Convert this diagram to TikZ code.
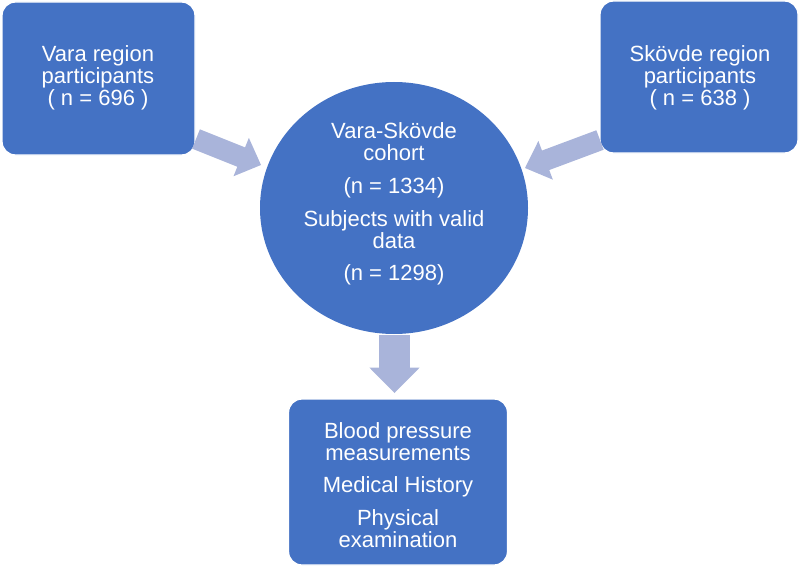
\documentclass[tikz,border=0pt]{standalone}
\usepackage{fontspec}
\setmainfont{Liberation Sans}
\usetikzlibrary{calc,shapes.geometric}
\definecolor{boxblue}{RGB}{68,114,196}
\definecolor{arrowcol}{RGB}{169,180,218}
\newcommand\blockarrow[5]{%
  \fill[arrowcol] ($(#1)!#3!90:(#2)$) -- ($($(#2)!#5!(#1)$)!#3!90:(#2)$)
    -- ($($(#2)!#5!(#1)$)!#4!90:(#2)$) -- (#2)
    -- ($($(#2)!#5!(#1)$)!#4!-90:(#2)$) -- ($($(#2)!#5!(#1)$)!#3!-90:(#2)$)
    -- ($(#1)!#3!-90:(#2)$) -- cycle;}
\begin{document}
\begin{tikzpicture}[x=0.75pt,y=-0.75pt,
  txt/.style={text=white,align=center,font=\fontsize{16.5}{16.5}\selectfont},
  bbox/.style={fill=boxblue,draw=white,line width=1pt,rounded corners=10pt}]
\useasboundingbox (0,0) rectangle (800,567);
% boxes
\node[bbox,minimum width=193*0.75pt,minimum height=153*0.75pt] (vara) at (98.5,78.5) {};
\node[bbox,minimum width=198*0.75pt,minimum height=152*0.75pt] (skov) at (699,77) {};
\node[bbox,minimum width=219*0.75pt,minimum height=166*0.75pt] (exam) at (398,482) {};
\node[ellipse,fill=boxblue,minimum width=268*0.75pt,minimum height=252*0.75pt,inner sep=0pt] (coh) at (394,208) {};
% texts
\node[txt] (varat) at (98,78) {Vara region\\participants\\( n = 696 )};
\node[txt] (skovt) at (700,78) {Skövde region\\participants\\( n = 638 )};
\node[txt] (coht) at (394,204) {Vara-Skövde\\cohort\\[8pt](n = 1334)\\[8pt]Subjects with valid\\data\\[8pt](n = 1298)};
\node[txt] (examt) at (398,485) {Blood pressure\\measurements\\[8pt]Medical History\\[8pt]Physical\\examination};
% block arrows
\coordinate (a1s) at (196,139);
\coordinate (a1t) at (261,165);
\coordinate (a2s) at (600,140);
\coordinate (a2t) at (525,168);
\coordinate (a3s) at (394.5,335);
\coordinate (a3t) at (394.5,393);
\blockarrow{a1s}{a1t}{7.8pt}{15.5pt}{16pt}
\blockarrow{a2s}{a2t}{7.8pt}{15.5pt}{16.5pt}
\blockarrow{a3s}{a3t}{11.6pt}{18.8pt}{19pt}
\end{tikzpicture}
\end{document}
